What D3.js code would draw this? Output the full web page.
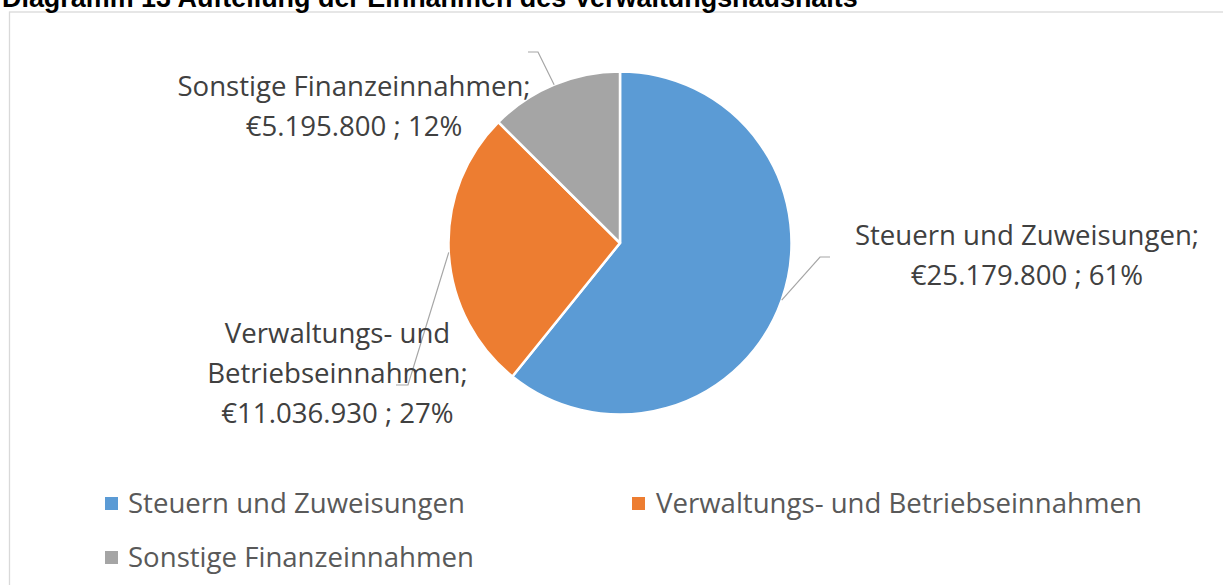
<!DOCTYPE html>
<html>
<head>
<meta charset="utf-8">
<script src="https://cdn.jsdelivr.net/npm/d3@7"></script>
<style>
  html, body { margin: 0; padding: 0; background: #fff; overflow: hidden; }
  svg { display: block; }
</style>
</head>
<body>
<svg id="chart" width="1223" height="585"></svg>
<script>
// ---- data ----
const title = "Diagramm 13 Aufteilung der Einnahmen des Verwaltungshaushalts";
const categories = ["Steuern und Zuweisungen", "Verwaltungs- und Betriebseinnahmen", "Sonstige Finanzeinnahmen"];
const values = [25179800, 11036930, 5195800];
const valueLabels = ["€25.179.800", "€11.036.930", "€5.195.800"];
const percentLabels = ["61%", "27%", "12%"];
const labelLines = [
  ["Steuern und Zuweisungen;", "€25.179.800 ; 61%"],
  ["Verwaltungs- und", "Betriebseinnahmen;", "€11.036.930 ; 27%"],
  ["Sonstige Finanzeinnahmen;", "€5.195.800 ; 12%"]
];
const colors = ["#5B9BD5", "#ED7D31", "#A5A5A5"];

// ---- layout ----
const cx = 620, cy = 243, R = 171.5;
const labelFont = "'Open Sans', 'Noto Sans', sans-serif";
const labelLayout = [
  { x: 1027, y0: 245, dy: 40, elbow: [820, 257], end: [830, 257] },
  { x: 337.5, y0: 343, dy: 40, elbow: [408, 385], end: [396, 385] },
  { x: 354, y0: 96, dy: 39.5, elbow: [538, 52], end: [528, 52] }
];

const svg = d3.select("#chart");

// measure to fit font size
function fitSize(str, target, family, weight) {
  const t = svg.append("text").attr("font-family", family).attr("font-size", 100)
    .attr("font-weight", weight || "normal").text(str);
  const w = t.node().getComputedTextLength();
  t.remove();
  return 100 * target / w;
}
const fs = fitSize("Steuern und Zuweisungen", 337, labelFont);
const titleFs = fitSize(title, 856, "'Liberation Sans', Arial, sans-serif", "bold");

// chart border
svg.append("rect").attr("x", 9.5).attr("y", 12).attr("width", 1240).attr("height", 620)
  .attr("fill", "none").attr("stroke", "#d9d9d9").attr("stroke-width", 1.3);

// title
svg.append("text").attr("x", 2).attr("y", 7)
  .attr("font-family", "'Liberation Sans', Arial, sans-serif").attr("font-weight", "bold")
  .attr("font-size", titleFs).attr("fill", "#000").text(title);

// pie
const pie = d3.pie().sort(null).startAngle(0).endAngle(2 * Math.PI)(values);
const arc = d3.arc().innerRadius(0).outerRadius(R);
const g = svg.append("g").attr("transform", `translate(${cx},${cy})`);
g.selectAll("path").data(pie).join("path")
  .attr("d", arc).attr("fill", (d, i) => colors[i])
  .attr("stroke", "#fff").attr("stroke-width", 2.5).attr("stroke-linejoin", "round");

// leader lines
pie.forEach((d, i) => {
  const a = (d.startAngle + d.endAngle) / 2;
  const sx = cx + R * Math.sin(a), sy = cy - R * Math.cos(a);
  const L = labelLayout[i];
  svg.append("polyline")
    .attr("points", [[sx, sy], L.elbow, L.end].map(p => p.join(",")).join(" "))
    .attr("fill", "none").attr("stroke", "#a6a6a6").attr("stroke-width", 1.2);
});

// data labels
labelLines.forEach((lines, i) => {
  const L = labelLayout[i];
  lines.forEach((s, k) => {
    svg.append("text").attr("x", L.x).attr("y", L.y0 + k * L.dy)
      .attr("text-anchor", "middle").attr("font-family", labelFont)
      .attr("font-size", fs).attr("fill", "#404040").text(s);
  });
});

// legend
const legendPos = [[105, 497, 128, 513], [632, 497, 656, 513], [105, 551, 128, 567]];
categories.forEach((c, i) => {
  const p = legendPos[i];
  svg.append("rect").attr("x", p[0]).attr("y", p[1]).attr("width", 13).attr("height", 13)
    .attr("fill", colors[i]);
  svg.append("text").attr("x", p[2]).attr("y", p[3]).attr("font-family", labelFont)
    .attr("font-size", fs).attr("fill", "#595959").text(c);
});
</script>
</body>
</html>
